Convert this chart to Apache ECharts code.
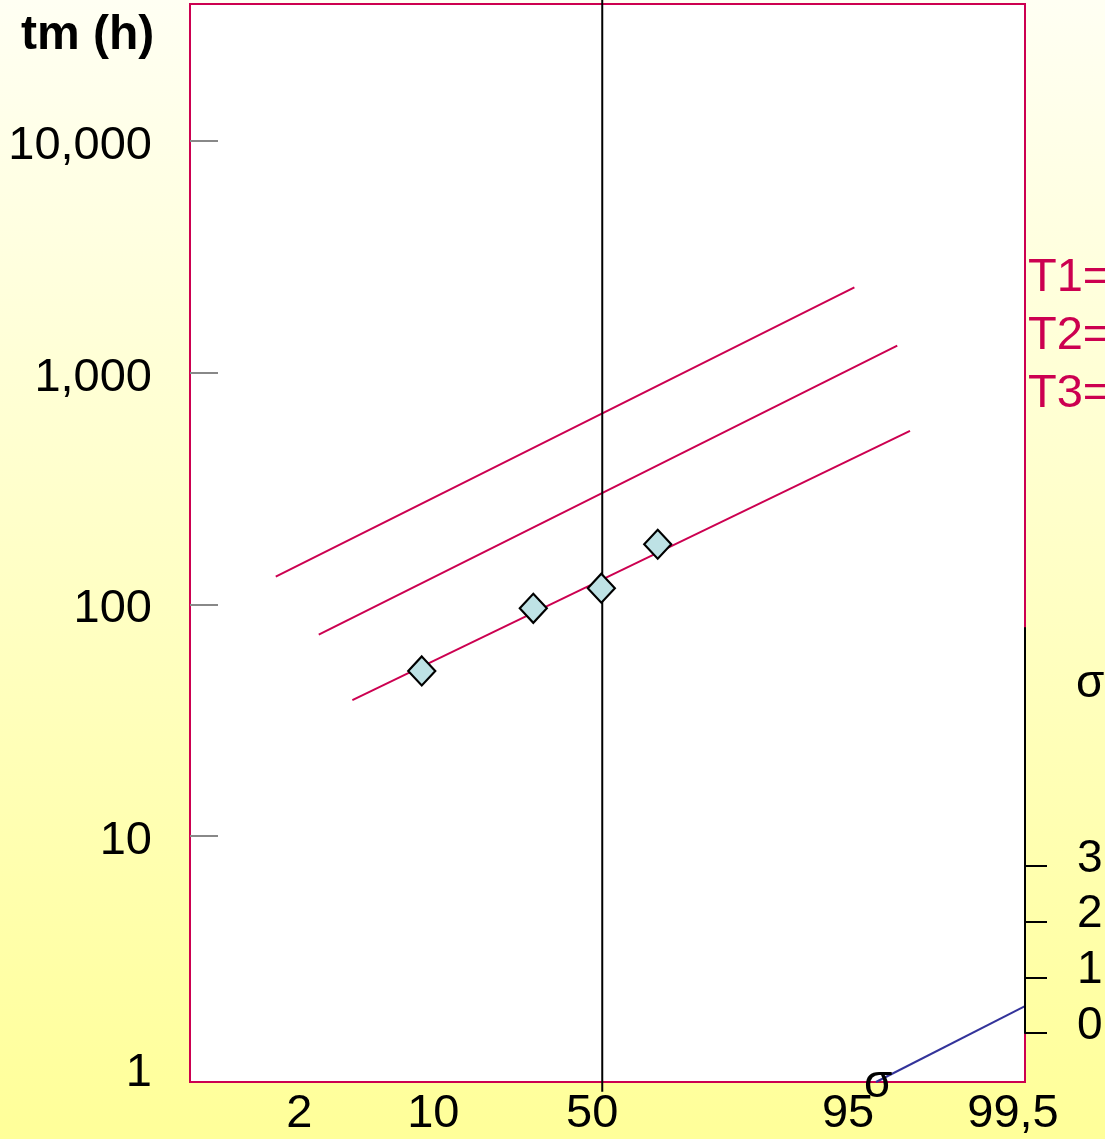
<!DOCTYPE html>
<html><head><meta charset="utf-8">
<script src="https://cdn.jsdelivr.net/npm/echarts@6/dist/echarts.min.js"></script>
<style>html,body{margin:0;padding:0;}#c{width:1105px;height:1139px;}</style>
</head><body><div id="c"></div>
<script>
// probability-scale positions (normal-quantile-like units as drawn) and labels
const xTickPos = [-2.02, -1.127, -0.067, 1.64, 2.74];
const xTickLabels = ['2', '10', '50', '95', '99,5'];
const yTickValues = [1, 10, 100, 1000, 10000];
const yTickMarks = [10, 100, 1000, 10000];
const sigmaTicks = [0, 1, 2, 3];
// measured points (x in probability units, tm in hours)
const points = [[-1.204, 51.6], [-0.460, 96.2], [-0.006, 117.4], [0.370, 181.7]];
// fitted lines for T1, T2, T3
const lineT1 = [[-2.178, 131.7], [1.682, 2333]];
const lineT2 = [[-1.891, 74.0], [1.968, 1306]];
const lineT3 = [[-1.667, 38.6], [2.053, 560]];
const sigmaLine = [[1.826, 0.87], [2.82, 1.85]];
const medianLine = [[0, 0.79], [0, 40500]];
const lineLabels = ['T1=', 'T2=', 'T3='];

const crimson = '#cc0050';
const font = '"Liberation Sans", Arial, sans-serif';
const chart = echarts.init(document.getElementById('c'));
function fmtThousands(v) { return '{a|' + String(Math.round(v)).replace(/\B(?=(\d{3})+(?!\d))/g, ',') + '}'; }

chart.setOption({
  backgroundColor: {type: 'linear', x: 0, y: 0, x2: 0, y2: 1,
    colorStops: [{offset: 0, color: '#fffff3'}, {offset: 1, color: '#ffff99'}]},
  animation: false,
  textStyle: {fontFamily: font},
  title: {text: 'tm (h)', left: 16, top: 7,
    textStyle: {fontSize: 48, fontWeight: 'bold', color: '#000', fontFamily: font}},
  grid: [
    {left: 190, top: 4, width: 835, height: 1078, show: true, backgroundColor: '#fff',
      borderColor: crimson, borderWidth: 2},
    {left: 1025, top: 628, width: 10, height: 405, show: false}
  ],
  xAxis: [
    {type: 'value', gridIndex: 0, min: -2.75, max: 2.82,
      axisLine: {show: false, onZero: false}, axisTick: {show: false}, splitLine: {show: false},
      axisLabel: {customValues: xTickPos, margin: 9, fontSize: 47, color: '#000', fontFamily: font,
        formatter: function (v) {
          let best = 0;
          for (let i = 1; i < xTickPos.length; i++) if (Math.abs(xTickPos[i] - v) < Math.abs(xTickPos[best] - v)) best = i;
          return xTickLabels[best];
        }}},
    {type: 'value', gridIndex: 1, min: 0, max: 1, show: false}
  ],
  yAxis: [
    {type: 'log', logBase: 10, gridIndex: 0, min: 0.87, max: 38900,
      axisLine: {show: false, onZero: false}, splitLine: {show: false}, minorTick: {show: false},
      axisTick: {show: true, inside: true, length: 28, customValues: yTickMarks,
        lineStyle: {color: '#888', width: 2}},
      axisLabel: {customValues: yTickValues, margin: 38, color: '#000', fontFamily: font,
        formatter: fmtThousands,
        rich: {a: {fontSize: 47, fontFamily: font, color: '#000', padding: [10, 0, 0, 0]}}}},
    {type: 'value', gridIndex: 1, min: 0, max: 7.27, position: 'left', z: 10,
      axisLine: {show: true, onZero: false, lineStyle: {color: '#000', width: 2}}, splitLine: {show: false},
      axisTick: {show: true, inside: true, length: 22, customValues: sigmaTicks,
        lineStyle: {color: '#000', width: 2}},
      axisLabel: {inside: true, customValues: sigmaTicks, margin: 52, color: '#000', fontFamily: font,
        formatter: function (v) { return '{b|' + v + '}'; },
        rich: {b: {fontSize: 46, fontFamily: font, color: '#000', padding: [0, 0, 14, 0]}}}}
  ],
  series: [
    {type: 'line', data: lineT1, symbol: 'none', lineStyle: {color: crimson, width: 2}},
    {type: 'line', data: lineT2, symbol: 'none', lineStyle: {color: crimson, width: 2}},
    {type: 'line', data: lineT3, symbol: 'none', lineStyle: {color: crimson, width: 2}},
    {type: 'line', data: medianLine, symbol: 'none', clip: false, z: 3, lineStyle: {color: '#000', width: 2}},
    {type: 'line', data: sigmaLine, symbol: 'none', lineStyle: {color: '#33339a', width: 2}},
    {type: 'scatter', data: points, symbol: 'diamond', symbolSize: [27, 29], z: 5,
      itemStyle: {color: '#bee2e5', borderColor: '#000', borderWidth: 2.2, opacity: 1}}
  ],
  graphic: [
    {type: 'text', left: 1028, top: 255, style: {text: lineLabels[0], fill: crimson, font: '47px ' + font}},
    {type: 'text', left: 1028, top: 313, style: {text: lineLabels[1], fill: crimson, font: '47px ' + font}},
    {type: 'text', left: 1028, top: 371, style: {text: lineLabels[2], fill: crimson, font: '47px ' + font}},
    {type: 'text', left: 1076, top: 661, style: {text: 'σ', fill: '#000', font: '46px ' + font}},
    {type: 'text', left: 864, top: 1061, z: 10, style: {text: 'σ', fill: '#000', font: '46px ' + font}}
  ]
});
</script></body></html>
